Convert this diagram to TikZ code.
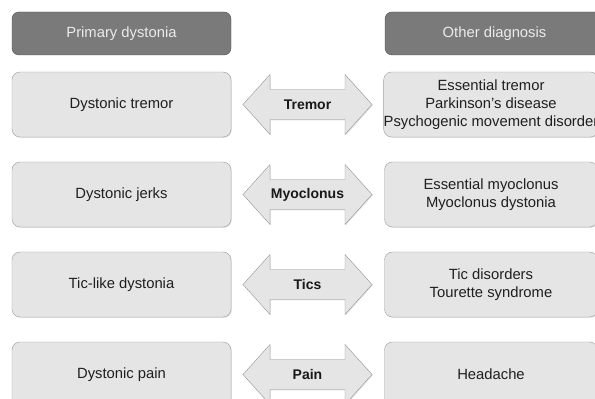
\documentclass[tikz,border=0pt]{standalone}
\usepackage{fontspec}
\setmainfont{Liberation Sans}
\usetikzlibrary{shadows}

\begin{document}
\begin{tikzpicture}[x=1pt,y=1pt,
    head/.style={draw=black!70,fill=black!52,rounded corners=7pt,minimum width=219pt,minimum height=43pt,
      text=black!8,font=\fontsize{14.8}{17}\selectfont},
    item/.style={draw=black!38,fill=black!10,rounded corners=8pt,minimum width=219pt,minimum height=65pt,
      inner xsep=0pt,align=center,text=black!88,font=\fontsize{14.8}{18}\selectfont,
      drop shadow={shadow xshift=0.8pt,shadow yshift=-0.8pt,opacity=0.25}},
    link/.style={draw=black!42,fill=black!10,line join=miter,
      drop shadow={shadow xshift=0.8pt,shadow yshift=-0.8pt,opacity=0.25}},
    linktext/.style={text=black!90,font=\bfseries\fontsize{14}{17}\selectfont}]
    \useasboundingbox (0,0) rectangle (595,399);
    \node[head] (primary) at (121.5,365.5) {Primary dystonia};
    \node[head] (other) at (494.5,365.5) {Other diagnosis};
    \foreach \py/\a/\b/\c [count=\i] in {
        104.5/{Dystonic tremor}/{Tremor}/{Essential tremor\\Parkinson’s disease\\Psychogenic movement disorder},
        194.5/{Dystonic jerks}/{Myoclonus}/{Essential myoclonus\\Myoclonus dystonia},
        284.5/{Tic-like dystonia}/{Tics}/{Tic disorders\\Tourette syndrome},
        374.5/{Dystonic pain}/{Pain}/{Headache}}{
        \node[item] (dys\i) at (121.5,399-\py) {\a};
        \node[item,minimum width=213pt] (diag\i) at (491,399-\py) {\c};
        \coordinate (mid\i) at (307.5,399-\py);
        \path[link] (mid\i) ++(-64.5,0) -- ++(27,30) -- ++(0,-15) -- ++(75,0) -- ++(0,15) -- ++(27,-30)
            -- ++(-27,-30) -- ++(0,15) -- ++(-75,0) -- ++(0,-15) -- cycle;
        \node[linktext] (sym\i) at (mid\i) {\b};
    }
\end{tikzpicture}
\end{document}
